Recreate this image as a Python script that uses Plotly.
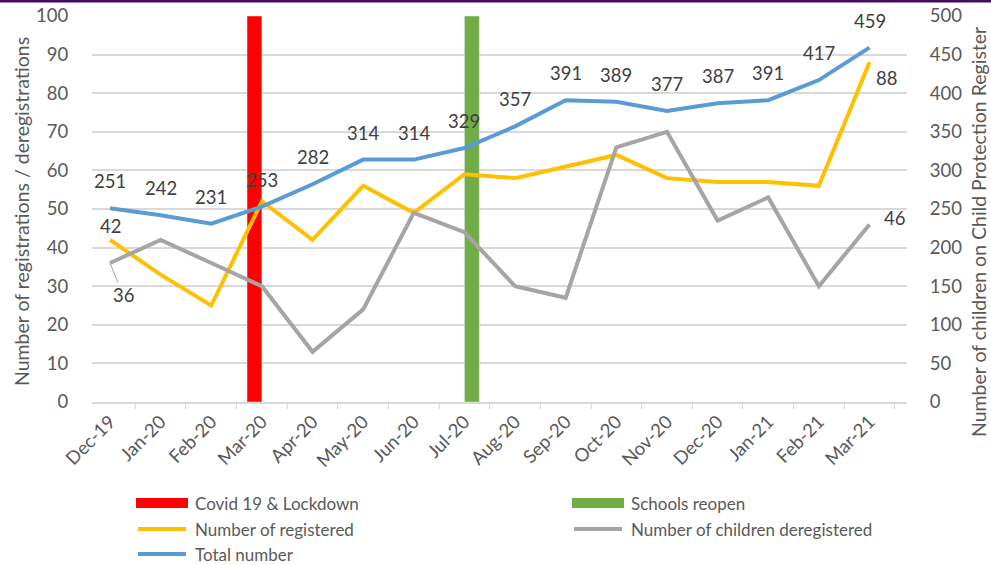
import plotly.graph_objects as go

months = ["Dec-19", "Jan-20", "Feb-20", "Mar-20", "Apr-20", "May-20", "Jun-20", "Jul-20",
          "Aug-20", "Sep-20", "Oct-20", "Nov-20", "Dec-20", "Jan-21", "Feb-21", "Mar-21"]
registered = [42, 33, 25, 52, 42, 56, 49, 59, 58, 61, 64, 58, 57, 57, 56, 88]
deregistered = [36, 42, 36, 30, 13, 24, 49, 44, 30, 27, 66, 70, 47, 53, 30, 46]
total = [251, 242, 231, 253, 282, 314, 314, 329, 357, 391, 389, 377, 387, 391, 417, 459]

lockdown_month = ["Mar-20"]
lockdown_value = [100]
schools_month = ["Jul-20"]
schools_value = [100]

name_lock = "Covid 19 & Lockdown"
name_school = "Schools reopen"
name_reg = "Number of registered"
name_dereg = "Number of children deregistered"
name_total = "Total number"
title_left = "Number of registrations / deregistrations"
title_right = "Number of children on Child Protection Register"

left_ticks = list(range(0, 101, 10))
right_ticks = list(range(0, 501, 50))

RED, GREEN, YEL, GRAY, BLUE = "#ff0000", "#70ad47", "#ffc000", "#a5a5a5", "#5b9bd5"
TXT = "#595959"
LBL = "#404040"
FONT = "Lato"
TICK_SIZE = 18.5
TITLE_SIZE = 19.5
LEG_SIZE = 17

W, H = 991, 565
# plot area in pixels
X0, X1, Y0, Y1 = 92, 907, 16, 402
L, R, T, B = X0, W - X1, Y0, H - Y1
PW, PH = X1 - X0, Y1 - Y0
BAR_W = 0.294


def px(x):
    return (x - X0) / PW


def py(y):
    return (Y1 - y) / PH


fig = go.Figure()
fig.add_trace(go.Bar(x=lockdown_month, y=lockdown_value, name=name_lock, width=BAR_W, offset=-BAR_W,
                     marker_color=RED, showlegend=False, yaxis="y"))
fig.add_trace(go.Bar(x=schools_month, y=schools_value, name=name_school, width=BAR_W, offset=0,
                     marker_color=GREEN, showlegend=False, yaxis="y"))
fig.add_trace(go.Scatter(x=months, y=registered, name=name_reg, mode="lines",
                         line=dict(color=YEL, width=4), showlegend=False, yaxis="y"))
fig.add_trace(go.Scatter(x=months, y=deregistered, name=name_dereg, mode="lines",
                         line=dict(color=GRAY, width=4), showlegend=False, yaxis="y"))
fig.add_trace(go.Scatter(x=months, y=total, name=name_total, mode="lines",
                         line=dict(color=BLUE, width=4), showlegend=False, yaxis="y2"))

lblfont = dict(family=FONT, size=TICK_SIZE, color=LBL)
annotations = []
for m, v in zip(months, total):
    annotations.append(dict(x=m, y=v, xref="x", yref="y2", text=str(v), showarrow=False,
                            yshift=27, font=lblfont))
annotations.append(dict(x=months[0], y=registered[0], xref="x", yref="y", text=str(registered[0]),
                        showarrow=False, yshift=14, font=lblfont))
annotations.append(dict(x=months[-1], y=registered[-1], xref="x", yref="y", text=str(registered[-1]),
                        showarrow=False, xshift=17, yshift=-16, font=lblfont))
annotations.append(dict(x=months[-1], y=deregistered[-1], xref="x", yref="y", text=str(deregistered[-1]),
                        showarrow=False, xshift=25, yshift=6, font=lblfont))
annotations.append(dict(x=months[0], y=deregistered[0], xref="x", yref="y", text=str(deregistered[0]),
                        showarrow=True, arrowhead=0, arrowwidth=1, arrowcolor=GRAY, ax=13, ay=32,
                        font=lblfont))

# axis titles
titlefont = dict(family=FONT, size=TITLE_SIZE, color=TXT)
annotations.append(dict(x=px(21), y=py(212), xref="paper", yref="paper", text=title_left,
                        textangle=-90, showarrow=False, xanchor="center", yanchor="middle",
                        font=titlefont))
annotations.append(dict(x=px(978), y=py(232), xref="paper", yref="paper", text=title_right,
                        textangle=-90, showarrow=False, xanchor="center", yanchor="middle",
                        font=titlefont))

shapes = []
# top purple border
shapes.append(dict(type="rect", xref="paper", yref="paper", x0=px(0), x1=px(W), y0=py(2.5),
                   y1=py(0), fillcolor="#3f0f5f", line=dict(width=0), layer="above"))

legend_items = [
    (name_lock, "box", RED, 136, 503),
    (name_school, "box", GREEN, 572, 503),
    (name_reg, "line", YEL, 136, 529),
    (name_dereg, "line", GRAY, 572, 529),
    (name_total, "line", BLUE, 136, 554),
]
for name, kind, col, x0, yc in legend_items:
    if kind == "box":
        shapes.append(dict(type="rect", xref="paper", yref="paper", x0=px(x0), x1=px(x0 + 52),
                           y0=py(yc + 5), y1=py(yc - 5), fillcolor=col, line=dict(width=0)))
    else:
        shapes.append(dict(type="line", xref="paper", yref="paper", x0=px(x0 + 2), x1=px(x0 + 50),
                           y0=py(yc), y1=py(yc), line=dict(color=col, width=4)))
    annotations.append(dict(x=px(x0 + 57), y=py(yc), xref="paper", yref="paper", text=name,
                            showarrow=False, xanchor="left", yanchor="middle",
                            font=dict(family=FONT, size=LEG_SIZE, color=TXT)))

tickfont = dict(family=FONT, size=TICK_SIZE, color=TXT)

fig.update_layout(
    width=W, height=H,
    margin=dict(l=L, r=R, t=T, b=B, pad=0, autoexpand=False),
    paper_bgcolor="white", plot_bgcolor="white",
    barmode="overlay",
    font=dict(family=FONT, size=TICK_SIZE, color=TXT),
    showlegend=False,
    xaxis=dict(type="category", categoryorder="array", categoryarray=months, automargin=False,
               tickangle=-45, ticks="outside", tickson="boundaries", ticklen=5,
               tickcolor="#d9d9d9", showline=True, linecolor="#d9d9d9", linewidth=1.5,
               showgrid=False, tickfont=tickfont),
    yaxis=dict(range=[0, 100], tickvals=left_ticks, showgrid=True, gridcolor="#d9d9d9", automargin=False,
               gridwidth=1.5, zeroline=False, showline=False, ticks="outside", ticklen=19,
               ticklabeloverflow="allow",
               tickcolor="rgba(0,0,0,0)", tickfont=tickfont),
    yaxis2=dict(range=[0, 500], tickvals=right_ticks, overlaying="y", side="right", automargin=False,
                showgrid=False, zeroline=False, showline=False, ticks="outside", ticklen=18,
                ticklabeloverflow="allow",
                tickcolor="rgba(0,0,0,0)", tickfont=tickfont),
    annotations=annotations,
    shapes=shapes,
)

fig.write_html("out.html", config={"displayModeBar": False},
               post_script="document.body.style.margin='0';")
